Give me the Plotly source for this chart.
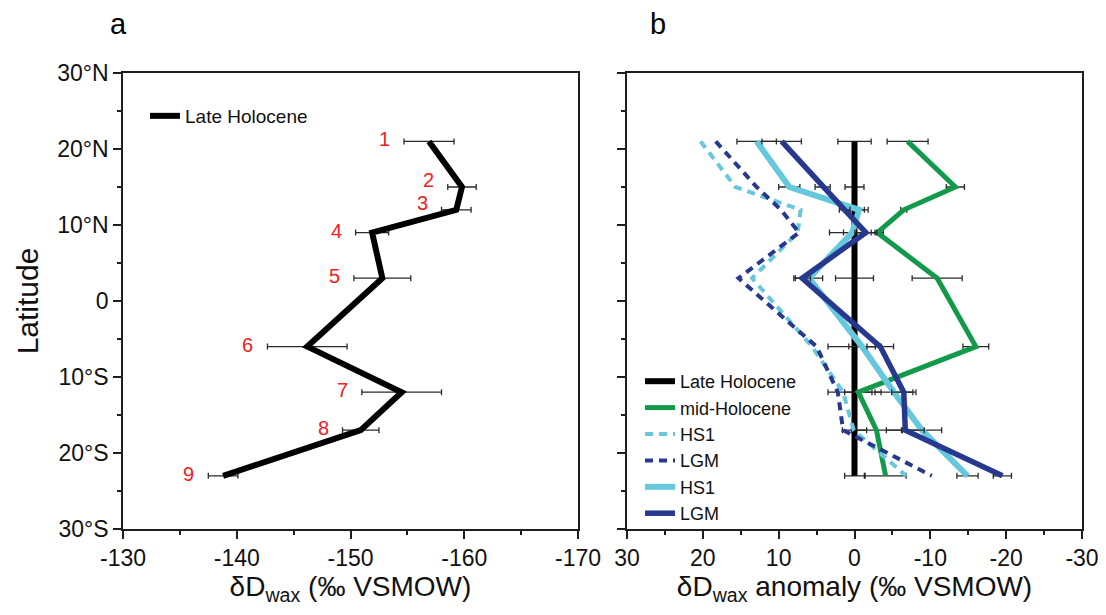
import plotly.graph_objects as go

# Core-top sites: latitude (deg, + = north) and site number
latitude = [21, 15, 12, 9, 3, -6, -12, -17, -23]
site_number = ["1", "2", "3", "4", "5", "6", "7", "8", "9"]

# Late Holocene leaf-wax deuterium (permil VSMOW) and 1-sigma uncertainty
dD_late_holocene = [-156.9, -159.8, -159.3, -151.9, -152.8, -146.2, -154.5, -150.9, -138.8]
dD_error = [2.2, 1.25, 1.3, 1.45, 2.5, 3.5, 3.5, 1.6, 1.3]

# Anomalies relative to the Late Holocene (permil VSMOW)
anom_late_holocene = [0, 0, 0, 0, 0, 0, 0, 0, 0]
anom_mid_holocene = [-7.0, -13.3, -6.5, -3.0, -10.9, -16.0, -0.5, -2.9, -4.1]
err_mid_holocene = [2.7, 1.2, 0.4, 0.8, 3.3, 1.7, 1.8, 3.3, 2.7]
anom_hs1_model = [20.3, 15.7, 7.1, 7.5, 13.5, 5.6, 1.5, 0.1, -6.8]
anom_lgm_model = [18.3, 12.9, 9.7, 7.3, 15.3, 5.0, 2.2, 1.5, -10.2]
anom_hs1 = [12.9, 8.6, -0.6, 0.3, 6.0, -1.0, -5.2, -8.9, -14.9]
err_hs1 = [2.6, 1.4, 1.2, 3.0, 1.8, 1.75, 2.5, 2.6, 1.4]
anom_lgm = [9.6, 4.2, 1.3, -1.5, 6.9, -3.4, -6.5, -6.7, -19.5]
err_lgm = [2.6, 1.0, 0.7, 1.45, 1.1, 1.75, 1.6, 2.5, 1.2]

# Axis ticks
lat_ticks = [30, 20, 10, 0, -10, -20, -30]
lat_tick_labels = ["30°N", "20°N", "10°N", "0", "10°S", "20°S", "30°S"]
dD_ticks = [-130, -140, -150, -160, -170]
dD_tick_labels = ["-130", "-140", "-150", "-160", "-170"]
anom_ticks = [30, 20, 10, 0, -10, -20, -30]
anom_tick_labels = ["30", "20", "10", "0", "-10", "-20", "-30"]

FONT = "Liberation Sans, Arial, sans-serif"
AXIS_COLOR = "#1e1e1e"
BAR_COLOR = "#2a2a2a"
GREEN = "#12994a"
LIGHT_BLUE = "#66c8dc"
DARK_BLUE = "#26398f"
RED = "#f02020"

W, H = 1106, 615


def px_x(p):
    return p / W


def px_y(p):
    return 1 - p / H


def err_bars(values):
    return dict(type="data", array=values, visible=True, color=BAR_COLOR,
                thickness=1.3, width=3)


fig = go.Figure()

# Panel a: absolute Late Holocene values
fig.add_trace(go.Scatter(
    x=dD_late_holocene, y=latitude, mode="lines", name="Late Holocene",
    line=dict(color="black", width=6), error_x=err_bars(dD_error),
    xaxis="x", yaxis="y", legend="legend"))

# Panel b: anomalies
panel_b = [
    ("Late Holocene", anom_late_holocene, dD_error, "black", 6, "solid"),
    ("mid-Holocene", anom_mid_holocene, err_mid_holocene, GREEN, 5, "solid"),
    ("HS1", anom_hs1_model, None, LIGHT_BLUE, 4, "8px,6px"),
    ("LGM", anom_lgm_model, None, DARK_BLUE, 4, "8px,6px"),
    ("HS1", anom_hs1, err_hs1, LIGHT_BLUE, 6, "solid"),
    ("LGM", anom_lgm, err_lgm, DARK_BLUE, 5.5, "solid"),
]
for name, vals, errs, color, width, dash in panel_b:
    fig.add_trace(go.Scatter(
        x=vals, y=latitude, mode="lines", name=name,
        line=dict(color=color, width=width, dash=dash),
        error_x=err_bars(errs) if errs is not None else None,
        xaxis="x2", yaxis="y2", legend="legend2"))

# Site numbers beside the left end of each error bar
annotations = []
for num, val, err, lat in zip(site_number, dD_late_holocene, dD_error, latitude):
    annotations.append(dict(
        x=val + err, y=lat, xref="x", yref="y", text=num, showarrow=False,
        xanchor="right", yanchor="middle", xshift=-12,
        yshift=7 if num in ("2", "3") else 2,
        font=dict(family=FONT, size=20, color=RED)))

# Panel letters
for letter, xp in (("a", 118), ("b", 658)):
    annotations.append(dict(
        x=px_x(xp), y=px_y(24), xref="paper", yref="paper", text=letter,
        showarrow=False, xanchor="center", yanchor="middle",
        font=dict(family=FONT, size=29, color="black")))

common_axis = dict(
    showline=True, linecolor=AXIS_COLOR, linewidth=1.5, mirror=True,
    ticks="outside", ticklen=8, tickwidth=1.5, tickcolor=AXIS_COLOR,
    showgrid=False, zeroline=False, automargin=False,
    tickfont=dict(family=FONT, size=23, color="#111"),
    minor=dict(ticks="outside", ticklen=4, tickwidth=1.5, tickcolor=AXIS_COLOR,
               tickmode="linear", tick0=0, dtick=5),
)

title_font = dict(family=FONT, size=28, color="#111")

fig.update_layout(
    width=W, height=H,
    margin=dict(l=0, r=0, t=0, b=0),
    paper_bgcolor="white", plot_bgcolor="white",
    showlegend=True,
    xaxis=dict(common_axis, domain=[px_x(123), px_x(578)], range=[-130, -170],
               tickmode="array", tickvals=dD_ticks, ticktext=dD_tick_labels,
               anchor="y",
               title=dict(text="δD<sub>wax</sub> (‰ VSMOW)", font=title_font,
                          standoff=3)),
    yaxis=dict(common_axis, domain=[px_y(529), px_y(73)], range=[-30, 30],
               tickmode="array", tickvals=lat_ticks, ticktext=lat_tick_labels,
               anchor="x",
               title=dict(text="Latitude", font=dict(title_font, size=30),
                          standoff=10)),
    xaxis2=dict(common_axis, domain=[px_x(627), px_x(1082)], range=[30, -30],
                tickmode="array", tickvals=anom_ticks, ticktext=anom_tick_labels,
                anchor="y2",
                title=dict(text="δD<sub>wax</sub> anomaly (‰ VSMOW)",
                           font=title_font, standoff=3)),
    yaxis2=dict(common_axis, domain=[px_y(529), px_y(73)], range=[-30, 30],
                tickmode="array", tickvals=lat_ticks, showticklabels=False,
                anchor="x2"),
    legend=dict(x=px_x(145), y=px_y(97), xanchor="left", yanchor="top",
                bgcolor="rgba(0,0,0,0)", borderwidth=0,
                font=dict(family=FONT, size=19, color="#111")),
    legend2=dict(x=px_x(640), y=px_y(363), xanchor="left", yanchor="top",
                 bgcolor="rgba(0,0,0,0)", borderwidth=0, tracegroupgap=0,
                 font=dict(family=FONT, size=18, color="#111")),
    annotations=annotations,
)

fig.write_html("out.html")
